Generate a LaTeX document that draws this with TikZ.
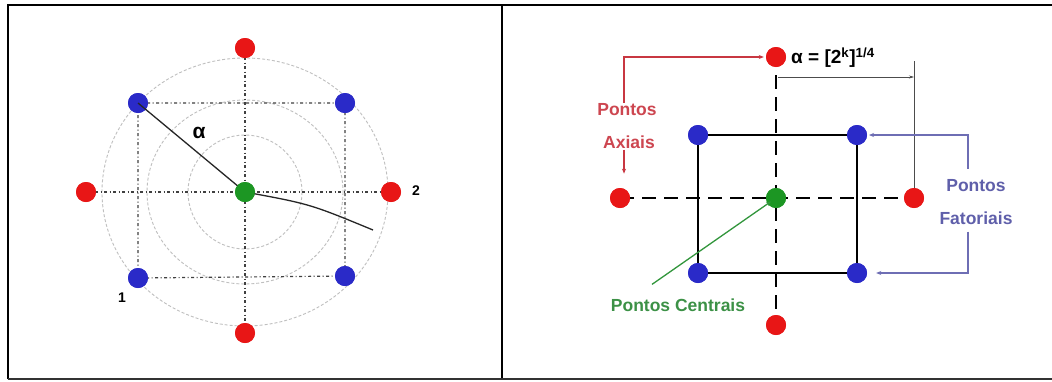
\documentclass[tikz,border=0pt]{standalone}
\usepackage{fontspec}
\setmainfont{Liberation Sans}
\usetikzlibrary{arrows.meta}
\definecolor{dotred}{RGB}{232,22,22}
\definecolor{dotblue}{RGB}{42,42,200}
\definecolor{dotgreen}{RGB}{28,150,35}
\definecolor{txtred}{RGB}{205,70,80}
\definecolor{txtblue}{RGB}{95,95,170}
\definecolor{txtgreen}{RGB}{60,145,70}
\definecolor{linered}{RGB}{200,55,65}
\definecolor{lineblue}{RGB}{110,110,180}
\definecolor{linegreen}{RGB}{50,150,60}
\tikzset{
  dot/.style={circle,minimum size=20pt,inner sep=0pt,draw=none},
  rdot/.style={dot,fill=dotred},
  bdot/.style={dot,fill=dotblue},
  gdot/.style={dot,fill=dotgreen},
  gridline/.style={gray!50!black,line width=1.2pt,dash pattern=on 3pt off 2.5pt on 1pt off 2.5pt},
  ring/.style={gray!50,line width=0.9pt,dash pattern=on 3pt off 2pt},
  solidsq/.style={black,line width=2.2pt},
  axisdash/.style={black,line width=2.2pt,dash pattern=on 14pt off 8pt},
  lbl/.style={font=\bfseries\fontsize{17.5}{19}\selectfont,inner sep=1pt},
  tip/.style={-{Stealth[length=5pt,width=4pt]}},
}
\begin{document}
\begin{tikzpicture}[x=1pt,y=-1pt]
\useasboundingbox (0,0) rectangle (1052,381);
\fill[white] (0,0) rectangle (1052,381);
% frame
\draw[black,line width=2.5pt] (8,379) -- (8,5) -- (1052,5);
\draw[black,line width=2.5pt] (502,5) -- (502,379);
\draw[black!80,line width=2pt] (8,379) -- (1052,379);

% ---------- left panel ----------
\coordinate (Lc) at (245,192);
\draw[ring] (Lc) ellipse [x radius=143, y radius=134];
\draw[ring] (Lc) ellipse [x radius=98, y radius=92];
\draw[ring] (Lc) ellipse [x radius=57, y radius=57];
\node[rdot] (LT) at (245,48) {};
\node[rdot] (LB) at (245,333) {};
\node[rdot] (LL) at (86,192) {};
\node[rdot] (LR) at (391,192) {};
\node[bdot] (LTL) at (138,103) {};
\node[bdot] (LTR) at (345,103) {};
\node[bdot] (LBL) at (138,278) {};
\node[bdot] (LBR) at (345,276) {};
\node[gdot] (LC) at (245,192) {};
\draw[gridline] (LTL.center) -- (LTR.center) -- (LBR.center) -- (LBL.center) -- cycle;
\draw[gridline] (LT.center) -- (LB.center);
\draw[gridline] (LL.center) -- (LR.center);
% dots on top of the grid
\node[rdot] at (LT) {};
\node[rdot] at (LB) {};
\node[rdot] at (LL) {};
\node[rdot] at (LR) {};
\node[bdot] at (LTL) {};
\node[bdot] at (LTR) {};
\node[bdot] at (LBL) {};
\node[bdot] at (LBR) {};
\coordinate (Lend) at (373,230);
\draw[black!85,line width=1.3pt] (LTL.center) -- (LC.center) .. controls (310,204) .. (Lend);
\node[gdot] at (LC) {};
\node[lbl,font=\bfseries\fontsize{21}{22}\selectfont] (alpha) at (199,133) {α};
\node[lbl,font=\bfseries\fontsize{14}{16}\selectfont] (n2) at (416,191) {2};
\node[lbl,font=\bfseries\fontsize{14}{16}\selectfont] (n1) at (122,298) {1};

% ---------- right panel ----------
\node[rdot] (RT) at (776,57) {};
\node[rdot] (RB) at (776,325) {};
\node[rdot] (RL) at (620,198) {};
\node[rdot] (RR) at (914,198) {};
\node[bdot] (RTL) at (698,135) {};
\node[bdot] (RTR) at (857,135) {};
\node[bdot] (RBL) at (698,273) {};
\node[bdot] (RBR) at (857,273) {};
\node[gdot] (RC) at (776,198) {};
\draw[solidsq] (RTL.center) -- (RTR.center) -- (RBR.center) -- (RBL.center) -- cycle;
\draw[axisdash] (RL.center) -- (RR.center);
\draw[axisdash,dash phase=4pt] (RT.center) -- (RB.center);
\node[rdot] at (RT) {};
\node[rdot] at (RB) {};
\node[rdot] at (RL) {};
\node[rdot] at (RR) {};
\node[bdot] at (RTL) {};
\node[bdot] at (RTR) {};
\node[bdot] at (RBL) {};
\node[bdot] at (RBR) {};
\node[gdot] at (RC) {};
% dimension
\coordinate (dimL) at (778,77);
\coordinate (dimR) at (914,77);
\coordinate (dimTop) at (914,61);
\draw[gray!60!black,line width=0.6pt,-{Stealth[length=5pt,width=3pt]}] (dimL) -- (dimR);
\draw[gray!60!black,line width=0.6pt] (dimTop) -- (RR.north);
\node[lbl,anchor=west,font=\bfseries\fontsize{19}{21}\selectfont] (formula) at (790,58) {α = [2\textsuperscript{k}]\textsuperscript{1/4}};
% axial labels
\node[lbl,text=txtred] (pa1) at (627,110) {Pontos};
\node[lbl,text=txtred] (pa2) at (629,142) {Axiais};
\draw[linered,line width=1.3pt,tip] ([xshift=-3pt]pa1.north) |- ([xshift=-2pt]RT.west);
\draw[linered,line width=1.3pt,tip] ([xshift=-5pt]pa2.south) -- ++(0,24);
% factorial labels
\node[lbl,text=txtblue] (pf1) at (976,186) {Pontos};
\node[lbl,text=txtblue] (pf2) at (976,218) {Fatoriais};
\draw[lineblue,line width=1.3pt,tip,shorten >=12pt] ([xshift=-8pt,yshift=10pt]pf1.north) |- (RTR.center);
\draw[lineblue,line width=1.3pt,tip,shorten >=9pt] ([xshift=-8pt,yshift=-6pt]pf2.south) |- (RBR.east);
% central label
\node[lbl,text=txtgreen] (pc) at (678,305) {Pontos Centrais};
\draw[linegreen,line width=1.3pt,tip,shorten >=6pt] ([xshift=-26pt,yshift=13pt]pc.north) -- (RC.center);
\end{tikzpicture}
\end{document}
